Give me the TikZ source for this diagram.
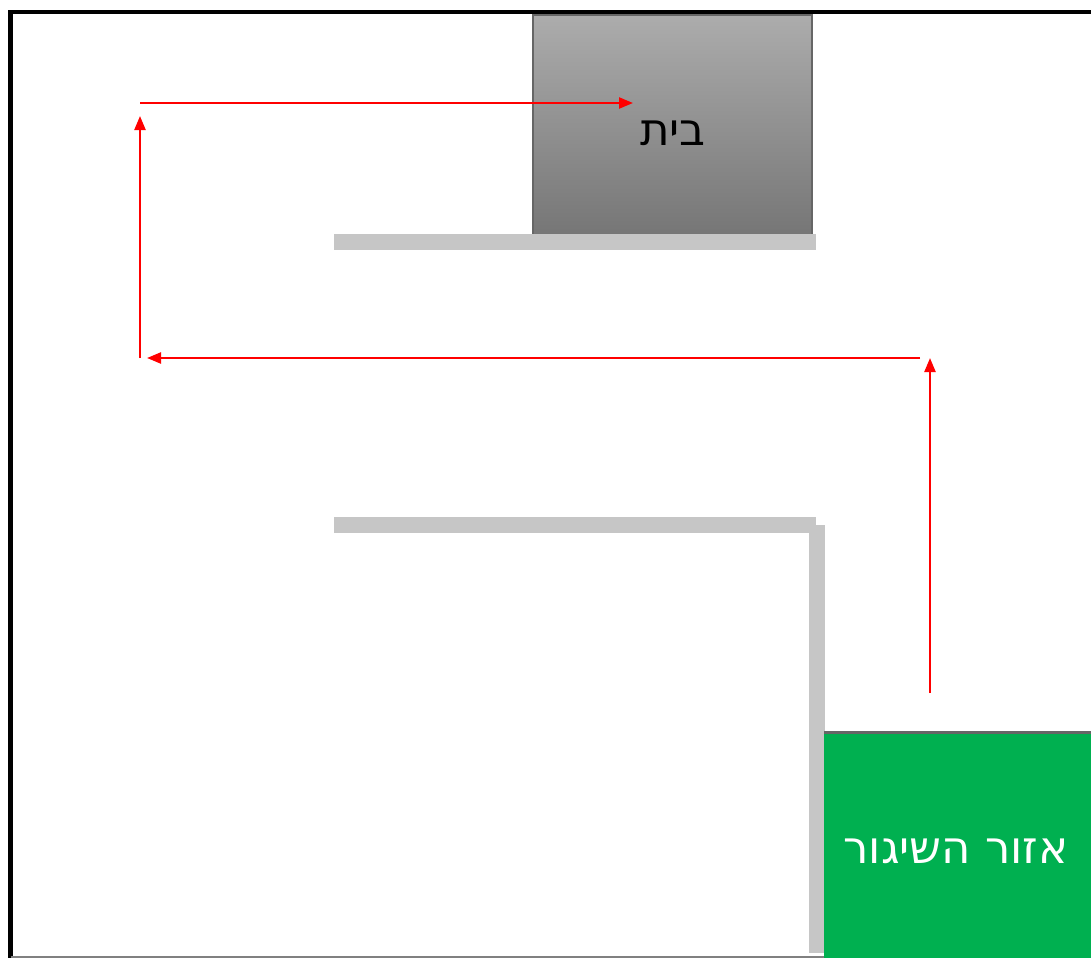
\documentclass[tikz,border=0pt]{standalone}
\usepackage{fontspec}
\usetikzlibrary{arrows.meta}
\newfontfamily\hebfont[Script=Hebrew]{DejaVu Sans}
\TeXXeTstate=1
\definecolor{wallgray}{HTML}{C6C6C6}
\definecolor{boxedge}{HTML}{666666}
\definecolor{zonegreen}{HTML}{00B050}
\begin{document}
\begin{tikzpicture}[x=1pt,y=-1pt,
  wall/.style={fill=wallgray, draw=none},
  route/.style={red, line width=2.3pt, -{Triangle[length=14pt,width=11pt]}},
  lbl/.style={font=\hebfont\fontsize{45}{50}\selectfont, inner sep=0pt}]
\useasboundingbox (0,0) rectangle (1091,958);
\fill[white] (0,0) rectangle (1091,958);
% frame
\draw[black, line width=4.5pt] (1091,12) -- (10.5,12) -- (10.5,958);
\draw[gray, line width=1.5pt] (10.5,957.2) -- (1091,957.2);
% house
\node[draw=boxedge, line width=2pt, top color={rgb,255:red,172;green,172;blue,172}, bottom color={rgb,255:red,118;green,118;blue,118}, minimum width=279pt, minimum height=220pt, inner sep=0pt] (house) at (672.5,125) {};
\node[lbl, black] (houselabel) at (673,133) {\beginR בית\endR};
% walls
\fill[wall] (334,234) rectangle (816,250);
\fill[wall] (334,517) rectangle (816,533);
\fill[wall] (809,525) rectangle (825,953);
% launch zone
\fill[zonegreen] (824,732) rectangle (1091,958);
\draw[boxedge, line width=3pt] (824,732) -- (1091,732);
\node[lbl, white] (zonelabel) at (956,851) {\beginR אזור השיגור\endR};
% route coordinates
\coordinate (a0) at (930,693);
\coordinate (a1) at (930,358);
\coordinate (b0) at (920,358);
\coordinate (b1) at (147,358);
\coordinate (c0) at (140,358);
\coordinate (c1) at (140,116);
\coordinate (d0) at (140,103);
\coordinate (d1) at (633,103);
\draw[route] (a0) -- (a1);
\draw[route] (b0) -- (b1);
\draw[route] (c0) -- (c1);
\draw[route] (d0) -- (d1);
\end{tikzpicture}
\end{document}
